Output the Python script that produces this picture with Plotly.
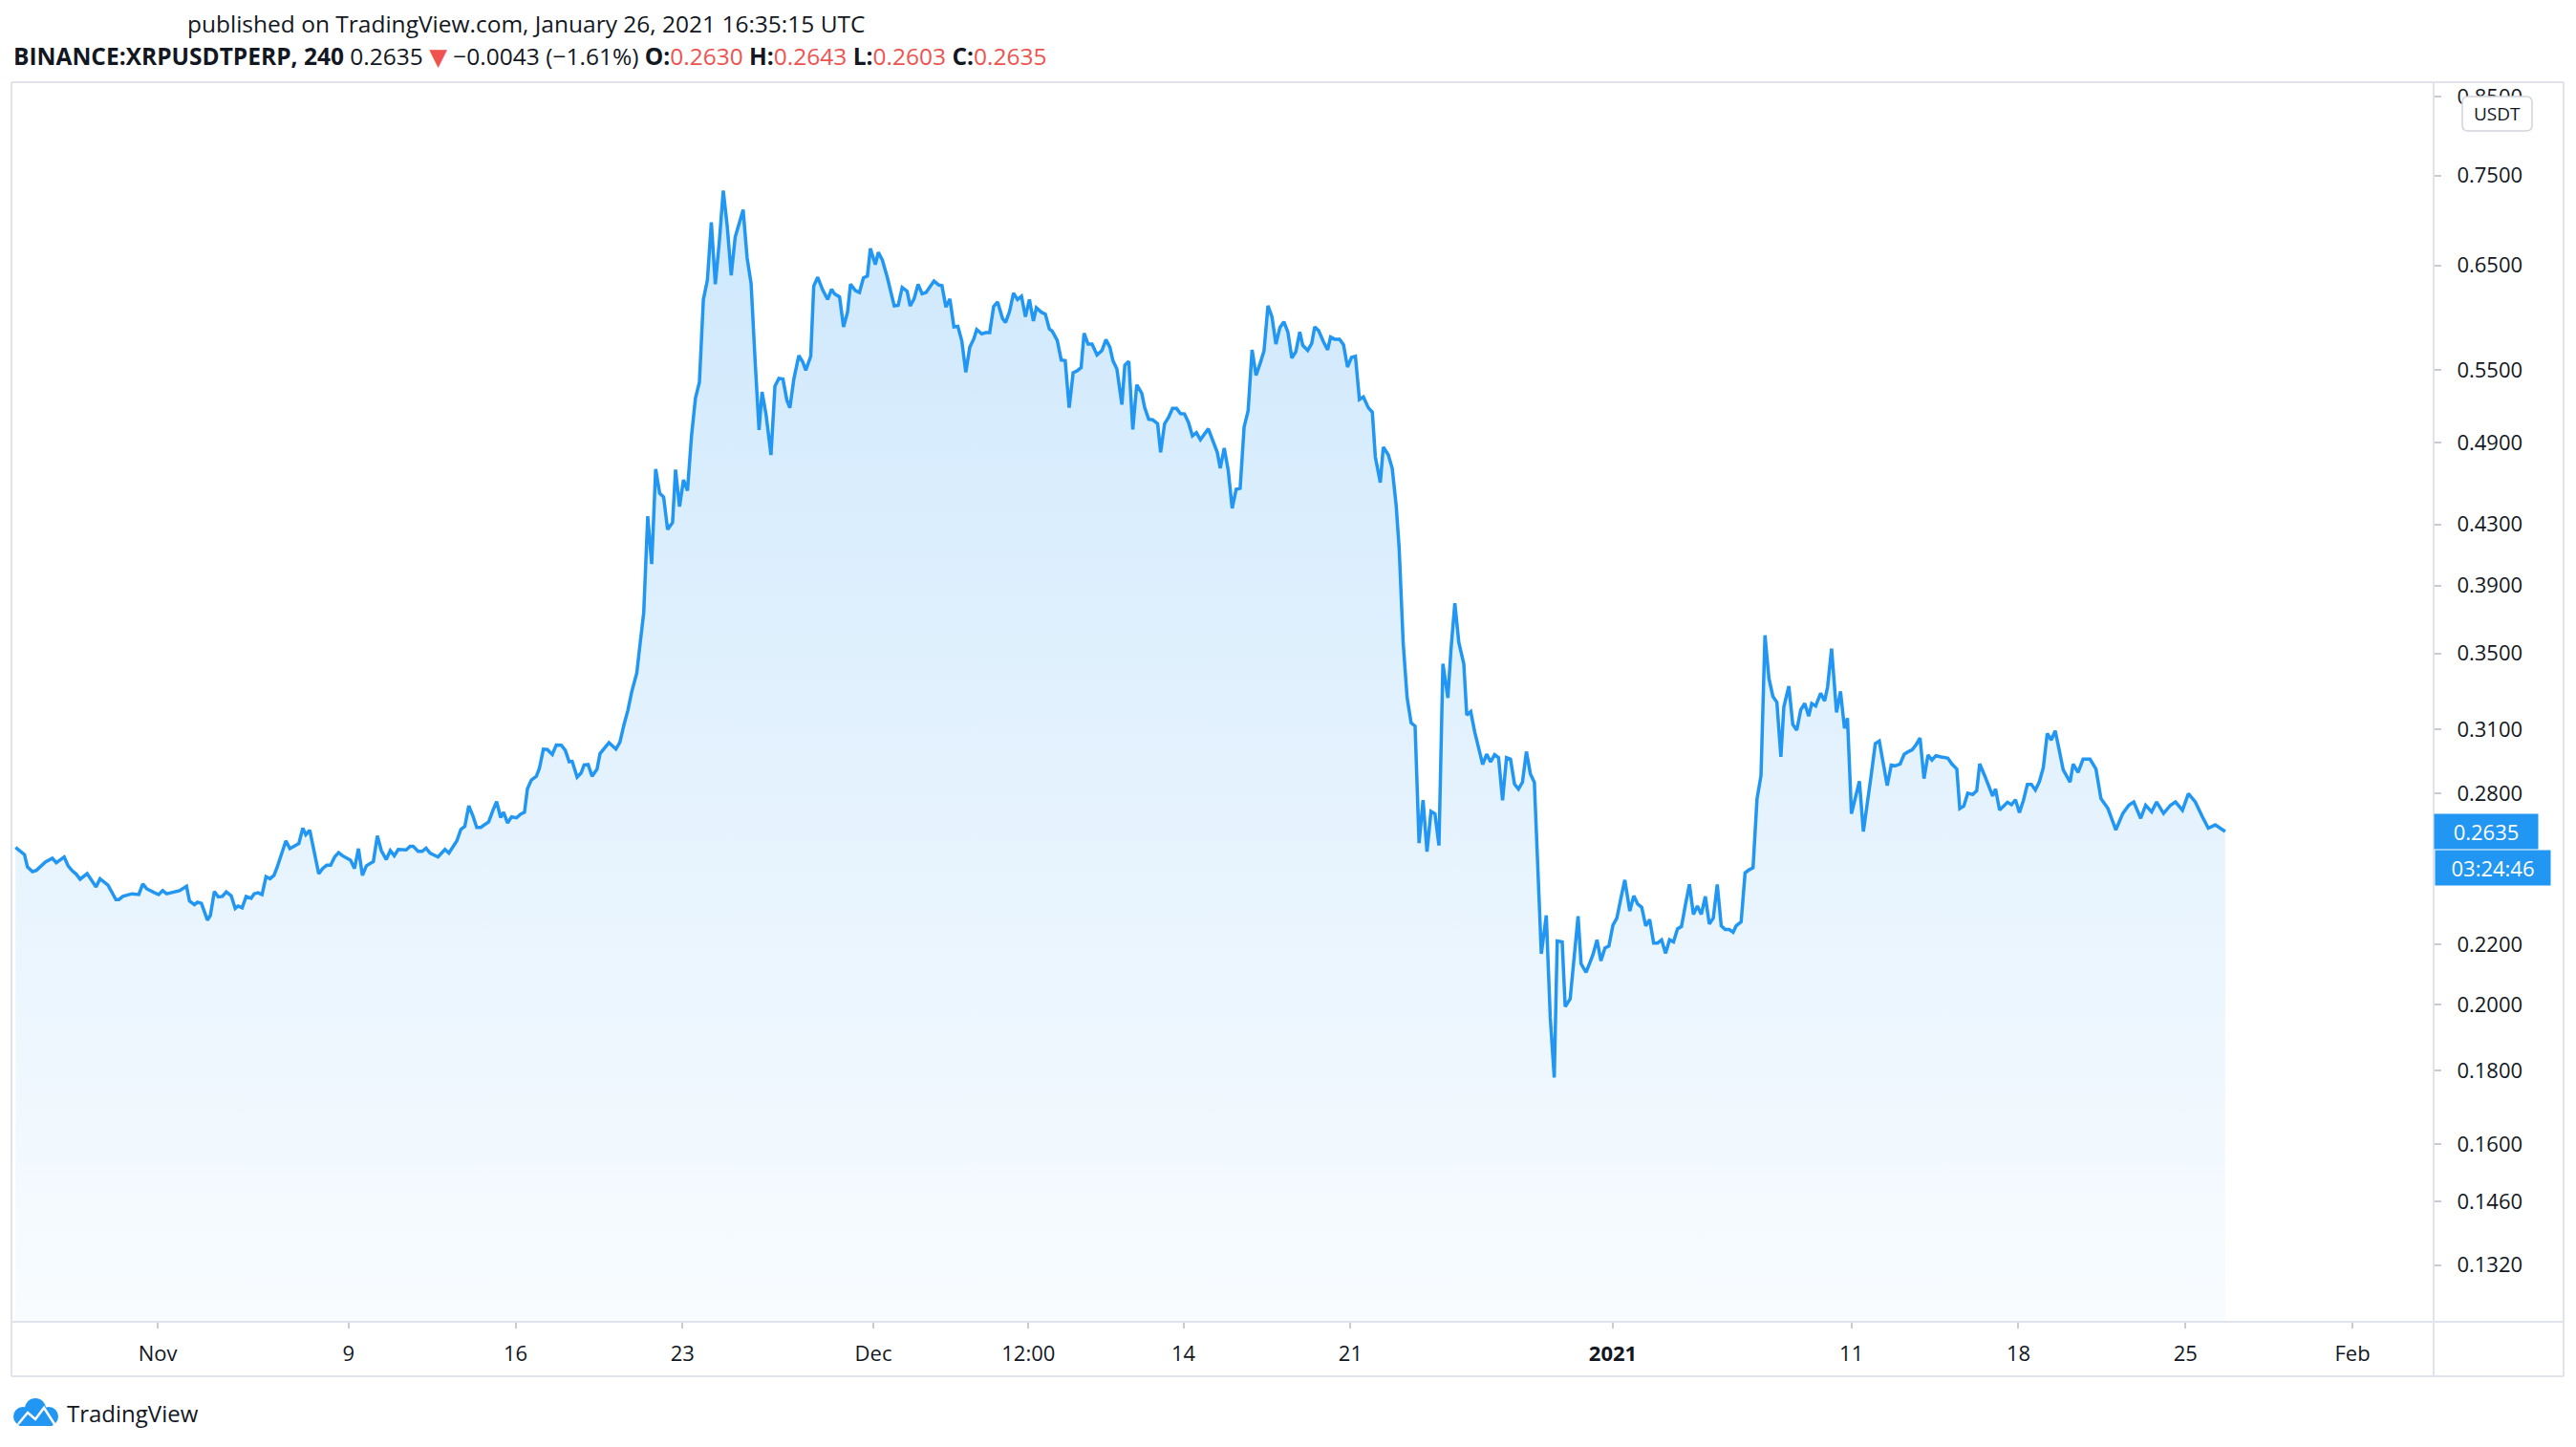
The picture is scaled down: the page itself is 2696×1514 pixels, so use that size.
import math
import pandas as pd
import plotly.graph_objects as go

# ------------------------------------------------------------------
# DATA  (BINANCE:XRPUSDTPERP, 240 min closes)
# time = hours after 2020-11-01 00:00 UTC, value = close in USDT
# ------------------------------------------------------------------
start_time = "2020-11-01 00:00"

hours_oct_nov = [-143,-134,-131,-126,-122,-113,-106,-102,-94,-90,-86,-82,-78,-71,-62,-58,-50,-42,-39,-35,-26,-19,-15,-11,-3,1,5,9,22,29,32,37,40,44,50,53,57,61,65,69,74,78,81,85,89,94,97,101,105,109,113,117,120,125,129,133,142,146,149,153,158,162,166,170,174,178,182,186,194,198,202,206,210,217,221,225,230,234,238,242,250,254,257,262,266,270,274,282,289,293,301,305,309,313,317,321,325,333,337,341,345,348]
close_oct_nov = [0.2569,0.2540,0.2490,0.2472,0.2477,0.2510,0.2525,0.2507,0.2530,0.2494,0.2475,0.2462,0.2442,0.2464,0.2412,0.2444,0.2419,0.2364,0.2364,0.2376,0.2386,0.2383,0.2424,0.2405,0.2390,0.2383,0.2398,0.2386,0.2398,0.2415,0.2359,0.2345,0.2354,0.2350,0.2288,0.2305,0.2395,0.2374,0.2376,0.2393,0.2378,0.2331,0.2340,0.2333,0.2376,0.2369,0.2386,0.2390,0.2383,0.2452,0.2444,0.2457,0.2487,0.2548,0.2596,0.2564,0.2585,0.2649,0.2622,0.2641,0.2543,0.2464,0.2484,0.2497,0.2497,0.2530,0.2548,0.2535,0.2517,0.2484,0.2564,0.2457,0.2495,0.2512,0.2617,0.2556,0.2520,0.2556,0.2535,0.2561,0.2559,0.2574,0.2574,0.2553,0.2553,0.2566,0.2546,0.2530,0.2561,0.2546,0.2596,0.2644,0.2657,0.2745,0.2703,0.2652,0.2652,0.2676,0.2722,0.2764,0.2695,0.2717]

hours_rally = [352,356,361,365,369,372,376,381,384,388,392,397,401,406,410,414,417,422,426,429,433,437,442,445,449,454,461,465,469,473,477,482,485,489,493,497,501,505,509,513,518,521,525,529,533,537,541]
close_rally = [0.2671,0.2697,0.2693,0.2709,0.2717,0.2821,0.2861,0.2878,0.2914,0.3005,0.3003,0.2979,0.3025,0.3024,0.3000,0.2945,0.2947,0.2874,0.2893,0.2930,0.2932,0.2878,0.2910,0.2983,0.3007,0.3036,0.3005,0.3038,0.3122,0.3196,0.3295,0.3393,0.3538,0.3737,0.4357,0.4037,0.4697,0.4519,0.4492,0.4265,0.4313,0.4692,0.4424,0.4617,0.4538,0.4947,0.5258]

hours_peak = [545,549,553,557,561,565,569,573,577,581,585,589,593,597,601,605,608,612,617,621,625,629,633,636,640,645,649,652,657,660,664,669,674,678,681,686,690,694,697,702,706,710,714,717,722,725,729,734,741,745,749,754,757,761,765,769,773,777,781,786,789,793,797,801,805,809,813,817,821,824,829,833,837,841,845,850]
close_peak = [0.5393,0.6155,0.6345,0.6960,0.6306,0.6744,0.7322,0.6917,0.6397,0.6799,0.6952,0.7102,0.6575,0.6313,0.5588,0.4998,0.5311,0.5126,0.4803,0.5360,0.5426,0.5421,0.5242,0.5178,0.5421,0.5628,0.5571,0.5498,0.5622,0.6287,0.6377,0.6249,0.6155,0.6255,0.6211,0.6180,0.5891,0.6031,0.6306,0.6243,0.6224,0.6371,0.6390,0.6676,0.6508,0.6635,0.6555,0.6377,0.6092,0.6097,0.6274,0.6236,0.6092,0.6161,0.6306,0.6211,0.6224,0.6281,0.6338,0.6297,0.6292,0.6080,0.6161,0.5891,0.5897,0.5761,0.5481,0.5703,0.5779,0.5867,0.5826,0.5838,0.5838,0.6086,0.6130,0.5970]

hours_dec = [853,857,861,865,869,873,877,881,884,889,893,897,900,905,909,913,917,921,925,929,932,936,940,945,950,954,958,961,965,970,973,977,981,985,990,993,997,1001,1006,1009,1013,1017,1021,1025,1029,1033,1037,1041,1045,1049,1057,1061,1066,1069,1073,1077,1081,1085,1089,1093,1097,1101,1105,1109,1113,1117,1121,1125,1129,1133,1137,1141,1145,1149,1152,1157,1161,1164,1168,1173,1177,1180,1184,1189,1193,1197,1201,1205,1209,1213,1218,1222]
close_dec = [0.5934,0.6037,0.6218,0.6155,0.6186,0.5988,0.6155,0.5946,0.6074,0.6031,0.6013,0.5874,0.5850,0.5767,0.5589,0.5583,0.5179,0.5476,0.5493,0.5521,0.5832,0.5732,0.5732,0.5634,0.5674,0.5773,0.5703,0.5583,0.5510,0.5205,0.5543,0.5577,0.5003,0.5372,0.5301,0.5179,0.5085,0.5081,0.5049,0.4823,0.5049,0.5100,0.5173,0.5173,0.5131,0.5128,0.5059,0.4952,0.4977,0.4922,0.5008,0.4925,0.4823,0.4702,0.4857,0.4688,0.4411,0.4547,0.4555,0.5023,0.5152,0.5680,0.5454,0.5555,0.5669,0.6093,0.5988,0.5732,0.5886,0.5940,0.5844,0.5606,0.5663,0.5844,0.5721,0.5674,0.5738,0.5892,0.5856,0.5750,0.5680,0.5797,0.5777,0.5777,0.5727,0.5526,0.5611,0.5622,0.5247,0.5269,0.5179,0.5142]

hours_crash = [1225,1230,1233,1238,1242,1246,1249,1253,1257,1261,1265,1269,1273,1277,1281,1285,1289,1293,1298,1301,1305,1309,1314,1317,1321,1325,1329,1333,1337,1341,1345,1349,1353,1357,1361,1365,1369,1373,1377,1381,1385,1389,1392,1397,1401,1405,1408,1413,1416]
close_crash = [0.4789,0.4597,0.4864,0.4805,0.4702,0.4429,0.4137,0.3562,0.3261,0.3134,0.3117,0.2587,0.2770,0.2552,0.2721,0.2710,0.2577,0.3443,0.3261,0.3514,0.3792,0.3562,0.3443,0.3173,0.3190,0.3088,0.3013,0.2932,0.2981,0.2944,0.2978,0.2964,0.2770,0.2964,0.2957,0.2842,0.2819,0.2850,0.2993,0.2889,0.2850,0.2467,0.2168,0.2305,0.1958,0.1780,0.2213,0.2210,0.1993]

hours_jan = [1421,1425,1429,1432,1437,1441,1444,1448,1452,1456,1460,1464,1468,1472,1476,1481,1485,1489,1493,1497,1501,1505,1509,1513,1517,1521,1525,1529,1533,1537,1541,1545,1549,1553,1557,1561,1565,1569,1573,1577,1581,1585,1588,1593,1597,1601,1605,1609,1613,1617,1621,1625,1629,1633,1636,1641,1645,1649,1653,1657,1661,1664,1668,1673,1677,1680,1684,1689,1693,1697,1700,1704,1708,1712,1716,1720,1724,1728,1732,1736,1740,1744,1748,1753,1757,1761,1765,1769,1773,1777,1781,1785,1789,1794,1801,1805,1810,1813,1817,1821,1826,1830,1833,1838,1842,1846,1849,1853,1857,1861,1865,1869,1873,1877,1881,1885,1889,1893,1897,1901,1905,1909,1913,1917]
close_jan = [0.2018,0.2161,0.2302,0.2134,0.2105,0.2139,0.2166,0.2217,0.2144,0.2188,0.2195,0.2269,0.2295,0.2368,0.2439,0.2321,0.2378,0.2347,0.2335,0.2267,0.2290,0.2206,0.2206,0.2217,0.2170,0.2217,0.2210,0.2256,0.2265,0.2345,0.2422,0.2309,0.2340,0.2309,0.2376,0.2274,0.2295,0.2422,0.2267,0.2254,0.2254,0.2244,0.2267,0.2281,0.2467,0.2479,0.2487,0.2775,0.2881,0.3603,0.3363,0.3268,0.3238,0.2968,0.3215,0.3322,0.3125,0.3097,0.3199,0.3232,0.3167,0.3232,0.3219,0.3285,0.3245,0.3318,0.3527,0.3186,0.3295,0.3106,0.3157,0.2711,0.2786,0.2855,0.2635,0.2750,0.2887,0.3032,0.3044,0.2938,0.2835,0.2929,0.2926,0.2935,0.2980,0.2992,0.3001,0.3026,0.3059,0.2867,0.2977,0.2953,0.2974,0.2968,0.2962,0.2935,0.2911,0.2733,0.2744,0.2801,0.2795,0.2812,0.2935,0.2881,0.2835,0.2789,0.2820,0.2727,0.2744,0.2761,0.2750,0.2772,0.2716,0.2769,0.2841,0.2841,0.2815,0.2852,0.2917,0.3081,0.3049,0.3094,0.3001,0.2908]

hours_last = [1924,1927,1932,1937,1944,1950,1955,1962,1970,1977,1983,1988,1995,2000,2006,2011,2018,2025,2030,2037,2043,2050,2057,2063,2070,2080]
close_last = [0.2851,0.2934,0.2896,0.2957,0.2957,0.2911,0.2777,0.2734,0.2642,0.2712,0.2748,0.2762,0.2691,0.2748,0.2719,0.2762,0.2712,0.2748,0.2762,0.2726,0.2799,0.2762,0.2698,0.2649,0.2663,0.2635]

# axis ticks
x_tick_dates = ["2020-11-01", "2020-11-09", "2020-11-16", "2020-11-23", "2020-12-01",
                "2020-12-07 12:00", "2020-12-14", "2020-12-21", "2021-01-01",
                "2021-01-11", "2021-01-18", "2021-01-25", "2021-02-01"]
x_tick_text = ["Nov", "9", "16", "23", "Dec", "12:00", "14", "21", "<b>2021</b>",
               "11", "18", "25", "Feb"]
y_tick_values = [0.85, 0.75, 0.65, 0.55, 0.49, 0.43, 0.39, 0.35, 0.31, 0.28,
                 0.22, 0.20, 0.18, 0.16, 0.146, 0.132]
y_tick_text = [f"{v:.4f}" for v in y_tick_values]

x_range = ["2020-10-25 20:54", "2021-02-04 09:42"]
y_range = [0.12058, 0.8703]

last_price = 0.2635
countdown = "03:24:46"
title_line = "published on TradingView.com, January 26, 2021 16:35:15 UTC"
symbol = "BINANCE:XRPUSDTPERP, 240"
change = "\u22120.0043 (\u22121.61%)"
ohlc = [("O", "0.2630"), ("H", "0.2643"), ("L", "0.2603"), ("C", "0.2635")]

# ------------------------------------------------------------------
hours = (hours_oct_nov + hours_rally + hours_peak + hours_dec +
         hours_crash + hours_jan + hours_last)
close = (close_oct_nov + close_rally + close_peak + close_dec +
         close_crash + close_jan + close_last)
assert len(hours) == len(close)
times = pd.Timestamp(start_time) + pd.to_timedelta(hours, unit="h")

W, H = 2696, 1514
PL, PR, PT, PB = 12, 2547, 86, 1383     # plot area in pixels
FRAME_R, FRAME_B = 2683, 1440
BLUE = "#2196f3"
RED = "#ef5350"
TXT = "#131722"
BORDER = "#e0e3eb"
FONT = "Open Sans, Noto Sans, DejaVu Sans, sans-serif"


def px(X):
    return (X - PL) / (PR - PL)


def py(Y):
    return (PB - Y) / (PB - PT)


fig = go.Figure()

# baseline at the bottom of the pane, used as the lower edge of the area fill
fig.add_trace(go.Scatter(x=[times[0], times[-1]], y=[y_range[0], y_range[0]],
                         mode="lines", line=dict(width=0, color="rgba(0,0,0,0)"),
                         hoverinfo="skip", showlegend=False))
fig.add_trace(go.Scatter(
    x=times, y=close, mode="lines",
    line=dict(color=BLUE, width=3.5),
    fill="tonexty",
    fillgradient=dict(type="vertical",
                      colorscale=[[0, "rgba(33,150,243,0.03)"],
                                  [1, "rgba(33,150,243,0.22)"]]),
    hoverinfo="skip", showlegend=False))

shapes = []
# dotted last-price line
shapes.append(dict(type="line", xref="paper", x0=0, x1=1, yref="y",
                   y0=math.log10(last_price), y1=math.log10(last_price),
                   line=dict(color=BLUE, width=2, dash="2px,4px"), layer="above"))
# frame lines
for (x0, y0, x1, y1) in [(PL, PT, FRAME_R, PT), (PL, FRAME_B, FRAME_R, FRAME_B),
                         (PL, PT, PL, FRAME_B), (FRAME_R, PT, FRAME_R, FRAME_B),
                         (PL, PB, FRAME_R, PB), (PR, PT, PR, FRAME_B)]:
    shapes.append(dict(type="line", xref="paper", yref="paper",
                       x0=px(x0), x1=px(x1), y0=py(y0), y1=py(y1),
                       line=dict(color=BORDER, width=2), layer="above"))

# USDT unit box (rounded)
bx0, bx1, by0, by1, r = 2577, 2650, 101, 137, 6
path = (f"M {px(bx0 + r)},{py(by0)} L {px(bx1 - r)},{py(by0)} "
        f"Q {px(bx1)},{py(by0)} {px(bx1)},{py(by0 + r)} L {px(bx1)},{py(by1 - r)} "
        f"Q {px(bx1)},{py(by1)} {px(bx1 - r)},{py(by1)} L {px(bx0 + r)},{py(by1)} "
        f"Q {px(bx0)},{py(by1)} {px(bx0)},{py(by1 - r)} L {px(bx0)},{py(by0 + r)} "
        f"Q {px(bx0)},{py(by0)} {px(bx0 + r)},{py(by0)} Z")
shapes.append(dict(type="path", xref="paper", yref="paper", path=path,
                   fillcolor="white", line=dict(color="#d1d4dc", width=1.5), layer="above"))

# TradingView logo (cloud + white polyline)
LOGO = "#2196f3"
for (cx, cy, rr) in [(37, 1474, 11), (24, 1482, 10), (51, 1482, 10)]:
    shapes.append(dict(type="circle", xref="paper", yref="paper",
                       x0=px(cx - rr), x1=px(cx + rr), y0=py(cy - rr), y1=py(cy + rr),
                       fillcolor=LOGO, line=dict(width=0), layer="above"))
shapes.append(dict(type="rect", xref="paper", yref="paper",
                   x0=px(20), x1=px(55), y0=py(1480), y1=py(1492),
                   fillcolor=LOGO, line=dict(width=0), layer="above"))
lp = [(19, 1490), (29, 1478), (37, 1485), (46, 1473), (57, 1490)]
shapes.append(dict(type="path", xref="paper", yref="paper",
                   path="M " + " L ".join(f"{px(a)},{py(b)}" for a, b in lp),
                   line=dict(color="white", width=2.5), layer="above"))

annotations = []
annotations.append(dict(xref="paper", yref="paper", x=px(194), y=py(25),
                        xanchor="left", yanchor="middle", showarrow=False,
                        text=title_line, font=dict(family=FONT, size=24.5, color=TXT)))
hdr = (f"<b>{symbol}</b> {last_price:.4f} <span style='color:{RED}'>\u25BC</span> {change} "
       + " ".join(f"<b>{k}:</b><span style='color:{RED}'>{v}</span>" for k, v in ohlc))
annotations.append(dict(xref="paper", yref="paper", x=px(12), y=py(58),
                        xanchor="left", yanchor="middle", showarrow=False,
                        text=hdr, font=dict(family=FONT, size=24.5, color=TXT)))
annotations.append(dict(xref="paper", yref="paper", x=px(2613.5), y=py(119),
                        xanchor="center", yanchor="middle", showarrow=False,
                        text="USDT", font=dict(family=FONT, size=19, color=TXT)))
annotations.append(dict(xref="paper", yref="y", x=1, y=math.log10(last_price),
                        xanchor="left", yanchor="middle", showarrow=False,
                        text=f"{last_price:.4f}", bgcolor=BLUE, borderpad=2,
                        width=104, height=32, align="center",
                        font=dict(family=FONT, size=22, color="white")))
annotations.append(dict(xref="paper", yref="y", x=1, y=math.log10(last_price),
                        xanchor="left", yanchor="middle", showarrow=False, xshift=1,
                        yshift=-38, text=countdown, bgcolor=BLUE, borderpad=2,
                        width=116, height=32, align="center",
                        font=dict(family=FONT, size=22, color="white")))
annotations.append(dict(xref="paper", yref="paper", x=px(68), y=py(1478),
                        xanchor="left", yanchor="middle", showarrow=False,
                        text="TradingView", font=dict(family=FONT, size=24, color=TXT)))

fig.update_layout(
    width=W, height=H, autosize=False,
    margin=dict(l=PL, r=W - PR, t=PT, b=H - PB, pad=0),
    paper_bgcolor="white", plot_bgcolor="white",
    font=dict(family=FONT, size=22, color=TXT),
    hovermode=False, showlegend=False,
    shapes=shapes, annotations=annotations,
    xaxis=dict(type="date", range=x_range, showgrid=False, zeroline=False,
               showline=False, tickmode="array", tickvals=x_tick_dates,
               ticktext=x_tick_text, ticks="outside", ticklen=6, tickwidth=1.5,
               tickcolor="#c8cbd3", ticklabelstandoff=8,
               tickfont=dict(family=FONT, size=22, color=TXT)),
    yaxis=dict(type="log", side="right", range=[math.log10(y_range[0]), math.log10(y_range[1])],
               showgrid=False, zeroline=False, showline=False,
               tickmode="array", tickvals=y_tick_values, ticktext=y_tick_text,
               ticks="outside", ticklen=7, tickwidth=1.5, tickcolor="#c8cbd3",
               ticklabelstandoff=12,
               tickfont=dict(family=FONT, size=22, color=TXT)),
)

fig.write_html("out.html", config={"displayModeBar": False})
